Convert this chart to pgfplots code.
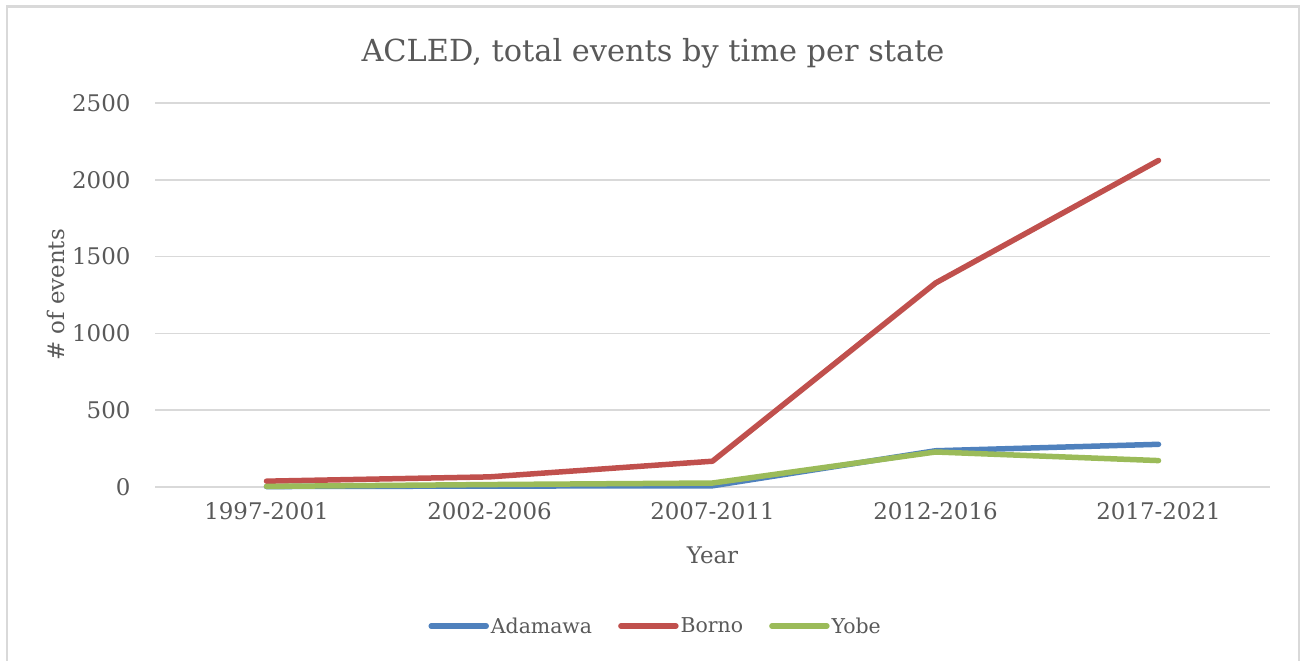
\documentclass[border=0pt]{standalone}
\usepackage{pgfplots}
\pgfplotsset{compat=1.18}
\usepackage{fontspec}
\setmainfont{DejaVu Serif}
\definecolor{cblue}{HTML}{4F81BD}
\definecolor{cred}{HTML}{C0504D}
\definecolor{cgreen}{HTML}{9BBB59}
\definecolor{ctext}{HTML}{595959}
\definecolor{cgrid}{HTML}{D9D9D9}
\begin{document}
\begin{tikzpicture}[x=1bp,y=1bp]
\path[use as bounding box] (0,0) rectangle (1302,-660);
\begin{scope}
\clip (0,0) rectangle (1302,-660);
\draw[cgrid, line width=2.2bp] (7,-6.5) rectangle (1299,-680);
\end{scope}
\node[text=ctext, font=\fontsize{30.5}{36}\selectfont, anchor=base] at (653,-62) {ACLED, total events by time per state};
\begin{axis}[
  at={(155bp,-487bp)}, anchor=south west,
  width=1115bp, height=384bp, scale only axis,
  xmin=-0.5, xmax=4.5, ymin=0, ymax=2500,
  xtick={0,1,2,3,4},
  xticklabels={1997-2001,2002-2006,2007-2011,2012-2016,2017-2021},
  ytick={0,500,1000,1500,2000,2500},
  axis line style={draw=none},
  axis x line*=bottom,
  axis y line*=left,
  major tick length=0pt,
  ymajorgrids, grid style={cgrid, line width=1.5bp},
  tick label style={text=ctext, font=\fontsize{23}{26}\selectfont},
  /pgf/number format/assume math mode=true,
  /pgf/number format/1000 sep={},
  yticklabel style={xshift=-21bp},
  xticklabel style={yshift=-12bp},
  xlabel={Year}, ylabel={\# of events},
  label style={text=ctext, font=\fontsize{23}{26}\selectfont},
  xlabel style={at={(axis description cs:0.5,0)}, anchor=north, yshift=-56bp},
  ylabel style={at={(axis description cs:0,0.5)}, anchor=south, xshift=0bp, yshift=87bp},
  clip=false,
  legend style={at={(0.449,-0.329)}, anchor=north, draw=none, fill=none, legend columns=3,
    font=\fontsize{20.5}{24}\selectfont, text=ctext,
    /tikz/every even column/.append style={column sep=24bp}},
  legend image code/.code={\draw[#1, line cap=round] (0bp,0bp) -- (55bp,0bp);},
  every axis plot/.append style={line width=5.5bp, line join=round, line cap=round},
]
\draw[cgrid, line width=1.5bp] (axis cs:-0.5,0) -- (axis cs:4.5,0);
\addplot[cblue] coordinates {(0,3) (1,6) (2,8) (3,236) (4,278)};
\addlegendentry{Adamawa}
\addplot[cred] coordinates {(0,38) (1,66) (2,168) (3,1328) (4,2126)};
\addlegendentry{Borno}
\addplot[cgreen] coordinates {(0,4) (1,16) (2,26) (3,228) (4,172)};
\addlegendentry{Yobe}
\end{axis}
\end{tikzpicture}
\end{document}
